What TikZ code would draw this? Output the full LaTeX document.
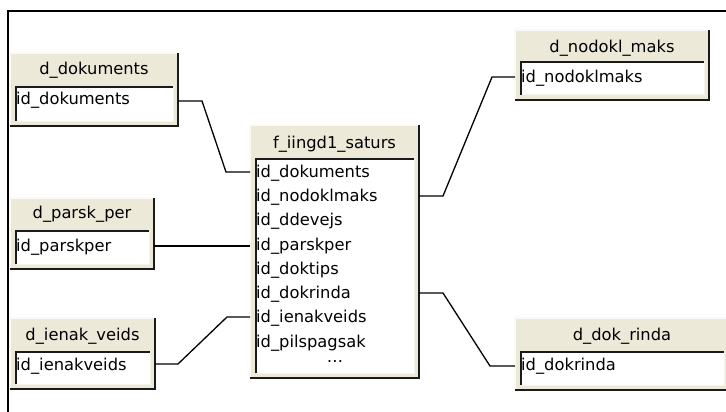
\documentclass[tikz,border=0pt]{standalone}
\usepackage{fontspec}
\setmainfont{DejaVu Sans}
\definecolor{hdrbg}{HTML}{ECE9D8}
\definecolor{litebd}{HTML}{FBFAF5}
\definecolor{darkbd}{HTML}{1A1A1A}
\tikzset{
  hdr/.style={fill=hdrbg},
  lite/.style={draw=litebd,line width=1.2pt},
  dark/.style={draw=darkbd,line width=1.6pt},
  ttl/.style={inner sep=0pt,anchor=base,font=\fontsize{16.3}{19}\selectfont},
  rowtxt/.style={inner sep=0pt,anchor=base west,font=\fontsize{16.3}{19}\selectfont},
  conn/.style={draw=black,line width=1.3pt},
  frameline/.style={draw=black,line width=2pt}
}
% #1 name, #2 L, #3 T, #4 R, #5 header bottom, #6 B, #7 title, #8 title baseline
\newcommand\erbox[8]{%
  \fill[hdr] (#2,#3) rectangle (#4,#6);
  \draw[lite] (#2,#6) -- (#2,#3) -- (#4,#3);
  \fill[white] (#2+5,#5) rectangle (#4-5,#6-5);
  \draw[draw=litebd!70!hdrbg,line width=1pt] (#2+6,#6-5) -- (#4-5,#6-5) -- (#4-5,#5);
  \draw[dark] (#2+5,#5) -- (#4-5,#5);
  \draw[dark] (#2+6,#5) -- (#2+6,#6-5);
  \draw[dark] (#2,#6) -- (#4,#6) -- (#4,#3);
  \node[ttl] (#1) at ({(#2+#4)/2},#8) {#7};
}
\begin{document}
\begin{tikzpicture}[x=1pt,y=-1pt]
\useasboundingbox (0,0) rectangle (726,412);
\fill[white] (0,0) rectangle (726,412);
\clip (0,0) rectangle (726,412);
\draw[frameline] (8,412) -- (8,11) -- (727,11);

% tables
\erbox{tdok}{10}{53}{178}{87}{126}{d\_dokuments}{75}
\node[rowtxt] (rdok) at (16,105) {id\_dokuments};

\erbox{tpar}{10}{198}{154}{231}{269}{d\_parsk\_per}{218}
\node[rowtxt] (rpar) at (16,251) {id\_parskper};

\erbox{tien}{10}{318}{155}{352}{389}{d\_ienak\_veids}{340}
\node[rowtxt] (rien) at (16,370) {id\_ienakveids};

\erbox{tnod}{515}{30}{709}{62}{100}{d\_nodokl\_maks}{53}
\node[rowtxt] (rnod) at (521,82) {id\_nodoklmaks};

\erbox{trin}{515}{318}{729}{352}{390}{d\_dok\_rinda}{340}
\node[rowtxt] (rrin) at (521,370) {id\_dokrinda};

\erbox{tfak}{250}{125}{419}{159}{378}{f\_iingd1\_saturs}{148}
\node[rowtxt] (f1) at (256,177) {id\_dokuments};
\node[rowtxt] (f2) at (256,201) {id\_nodoklmaks};
\node[rowtxt] (f3) at (256,225) {id\_ddevejs};
\node[rowtxt] (f4) at (256,250) {id\_parskper};
\node[rowtxt] (f5) at (256,274) {id\_doktips};
\node[rowtxt] (f6) at (256,298) {id\_dokrinda};
\node[rowtxt] (f7) at (256,322) {id\_ienakveids};
\node[rowtxt] (f8) at (256,347) {id\_pilspagsak};
\node[ttl] (f9) at (335,362) {\dots};

% connection points on table edges
\coordinate (pdok) at (178,101);
\coordinate (ppar) at (154,246);
\coordinate (pien) at (155,364);
\coordinate (pnod) at (515,77);
\coordinate (prin) at (515,366);
\coordinate (qf1) at (250,172);
\coordinate (qf4) at (250,246);
\coordinate (qf7) at (250,317);
\coordinate (qf2) at (419,196);
\coordinate (qf6) at (419,293);

% connectors
\draw[conn] (pdok) -- (202,101) -- (226,172) -- (qf1);
\draw[conn] (ppar) -- (qf4);
\draw[conn] (pien) -- (178,364) -- (227,317) -- (qf7);
\draw[conn] (pnod) -- (492,77) -- (443,196) -- (qf2);
\draw[conn] (prin) -- (490,366) -- (443,293) -- (qf6);
\end{tikzpicture}
\end{document}
